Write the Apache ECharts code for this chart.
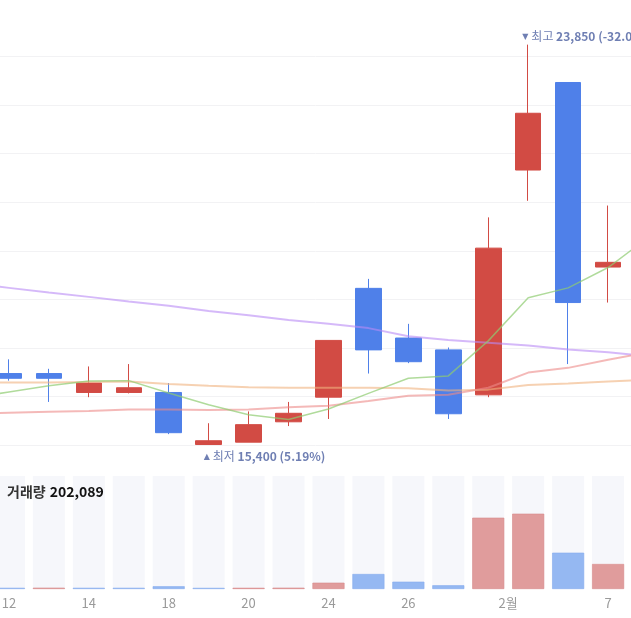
<!DOCTYPE html>
<html>
<head>
<meta charset="utf-8">
<script src="https://cdn.jsdelivr.net/npm/echarts/dist/echarts.min.js"></script>
<style>
  html, body { margin: 0; padding: 0; background: #ffffff; }
  #chart { width: 631px; height: 618px; }
</style>
</head>
<body>
<div id="chart"></div>
<script>
// ---- data ----
const dates = ['01-11','01-12','01-13','01-14','01-17','01-18','01-19','01-20','01-21','01-24','01-25','01-26','01-27','01-28','02-03','02-04','02-07','02-08'];
const tickLabels = ['', '12', '', '14', '', '18', '', '20', '', '24', '', '26', '', '', '2월', '', '7', ''];
const opens  = [17000, 16900, 16900, 16500, 16500, 16500, 15400, 15450, 15880, 16400, 18700, 17650, 17400, 16450, 21200, 23050, 19150, 19200];
const closes = [16900, 16800, 16800, 16700, 16600, 15650, 15480, 15820, 16060, 17600, 17400, 17150, 16050, 19550, 22400, 18400, 19250, 19300];
const lows   = [16850, 16750, 16300, 16400, 16480, 15620, 15400, 15450, 15790, 15940, 16900, 17120, 15940, 16400, 20550, 17100, 18400, 19000];
const highs  = [17050, 17200, 17000, 17050, 17100, 16700, 15850, 16100, 16300, 17600, 18900, 17950, 17450, 20200, 23850, 23050, 20450, 19600];
const volumes = [14000, 12000, 13000, 12000, 12000, 27000, 11000, 12000, 13000, 63000, 150000, 73000, 37000, 713000, 753000, 363000, 250000, 202089];
const volDir  = [1, -1, 1, -1, -1, -1, -1, 1, 1, 1, -1, -1, -1, 1, 1, -1, 1, 1];
const ma5   = [16380, 16510, 16640, 16740, 16750, 16490, 16240, 16030, 15930, 16150, 16480, 16800, 16850, 17590, 18500, 18710, 19140, 19770];
const ma20  = [16050, 16070, 16090, 16110, 16140, 16140, 16130, 16140, 16190, 16220, 16320, 16430, 16450, 16600, 16920, 17020, 17190, 17350];
const ma60  = [16720, 16710, 16710, 16720, 16730, 16680, 16640, 16610, 16600, 16600, 16600, 16590, 16540, 16560, 16660, 16690, 16730, 16770];
const ma120 = [18810, 18710, 18610, 18520, 18420, 18330, 18220, 18130, 18030, 17950, 17860, 17690, 17610, 17550, 17490, 17410, 17350, 17270];
const currentPrice = 16200;
const shownVolume = 202089;

// ---- styles ----
const RED = '#d24b44', BLUE = '#4f80e9';
const VRED = '#e09c9c', VBLUE = '#95b8f2';
const LABEL = '#6f7fb3';
const FONT = '"Noto Sans CJK KR", "Noto Sans", sans-serif';

const fmt = v => v.toLocaleString('en-US');
const hiVal = Math.max(...highs), loVal = Math.min(...lows);
const hiIdx = highs.indexOf(hiVal), loIdx = lows.indexOf(loVal);
const pct = base => ((currentPrice - base) / base * 100).toFixed(2) + '%';

const markRich = {
  t: { fontSize: 8, color: LABEL, fontFamily: '"DejaVu Sans", sans-serif', padding: [0, 3, 0, 0] },
  n: { fontSize: 12, color: LABEL, fontFamily: FONT },
  v: { fontSize: 12, color: LABEL, fontFamily: FONT, fontWeight: 'bold' }
};

const gridCommon = { left: -51, right: -37, containLabel: false, outerBoundsMode: 'none' };

const chart = echarts.init(document.getElementById('chart'), null, { renderer: 'canvas' });
chart.setOption({
  animation: false,
  backgroundColor: '#ffffff',
  textStyle: { fontFamily: FONT },
  title: {
    text: '{a|거래량} {b|' + fmt(shownVolume) + '}',
    left: 7, top: 483, padding: 0,
    textStyle: {
      rich: {
        a: { fontSize: 14, color: '#333333', fontFamily: FONT },
        b: { fontSize: 14, color: '#111111', fontFamily: FONT, fontWeight: 'bold' }
      }
    }
  },
  grid: [
    Object.assign({ top: 8, height: 437 }, gridCommon),
    Object.assign({ top: 476, height: 113 }, gridCommon)
  ],
  xAxis: [
    { type: 'category', gridIndex: 0, data: dates, boundaryGap: true, show: false },
    {
      type: 'category', gridIndex: 1, data: dates, boundaryGap: true,
      axisLine: { show: false }, axisTick: { show: false }, splitLine: { show: false },
      axisLabel: {
        interval: 0, color: '#9a9a9a', fontSize: 13, margin: 8, fontFamily: FONT,
        formatter: (val, i) => {
          const t = tickLabels[i];
          if (!t) return '';
          return t.indexOf('월') >= 0 ? '{m|' + t + '}' : t;
        },
        rich: { m: { color: '#9a9a9a', fontSize: 13, fontFamily: FONT, padding: [0, 40, 0, 0] } }
      }
    }
  ],
  yAxis: [
    {
      type: 'value', gridIndex: 0, position: 'right',
      min: 15390, max: 24624, interval: 1026,
      axisLine: { show: false }, axisTick: { show: false }, axisLabel: { show: false },
      splitLine: { show: true, showMaxLine: false, lineStyle: { color: '#f2f2f4', width: 1 } }
    },
    {
      type: 'value', gridIndex: 1, min: 0, max: 1130000,
      axisLine: { show: false }, axisTick: { show: false }, axisLabel: { show: false },
      splitLine: { show: false }
    }
  ],
  series: [
    {
      type: 'candlestick', xAxisIndex: 0, yAxisIndex: 0, barWidth: 26,
      data: dates.map((d, i) => [opens[i], closes[i], lows[i], highs[i]]),
      itemStyle: { color: RED, color0: BLUE, borderColor: RED, borderColor0: BLUE, borderWidth: 1 },
      markPoint: {
        symbol: 'rect', symbolSize: 1, silent: true,
        itemStyle: { color: 'rgba(0,0,0,0)' },
        data: [
          {
            coord: [dates[hiIdx], hiVal],
            label: {
              show: true, position: 'right', distance: 0, offset: [-6.5, -8],
              formatter: '{t|▼}{n|최고} {v|' + fmt(hiVal) + ' (' + pct(hiVal) + ')}',
              rich: markRich
            }
          },
          {
            coord: [dates[loIdx], loVal],
            label: {
              show: true, position: 'right', distance: 0, offset: [-5.5, 12],
              formatter: '{t|▲}{n|최저} {v|' + fmt(loVal) + ' (' + pct(loVal) + ')}',
              rich: markRich
            }
          }
        ]
      }
    },
    { type: 'line', name: 'MA120', data: ma120, symbol: 'none', silent: true, z: 3,
      lineStyle: { color: '#b98af5', width: 2, opacity: 0.6 } },
    { type: 'line', name: 'MA60', data: ma60, symbol: 'none', silent: true, z: 3,
      lineStyle: { color: '#f0b27e', width: 2, opacity: 0.6 } },
    { type: 'line', name: 'MA20', data: ma20, symbol: 'none', silent: true, z: 3,
      lineStyle: { color: '#ec8a88', width: 2, opacity: 0.6 } },
    { type: 'line', name: 'MA5', data: ma5, symbol: 'none', silent: true, z: 3,
      lineStyle: { color: '#8fcc70', width: 1.5, opacity: 0.7 } },
    {
      type: 'bar', xAxisIndex: 1, yAxisIndex: 1, barWidth: 32,
      showBackground: true, backgroundStyle: { color: '#f6f7fb' },
      data: volumes.map((v, i) => ({
        value: v,
        itemStyle: { color: volDir[i] > 0 ? VRED : VBLUE, borderColor: volDir[i] > 0 ? '#d98a8a' : '#86acef', borderWidth: 0.6 }
      }))
    }
  ]
});
</script>
</body>
</html>
